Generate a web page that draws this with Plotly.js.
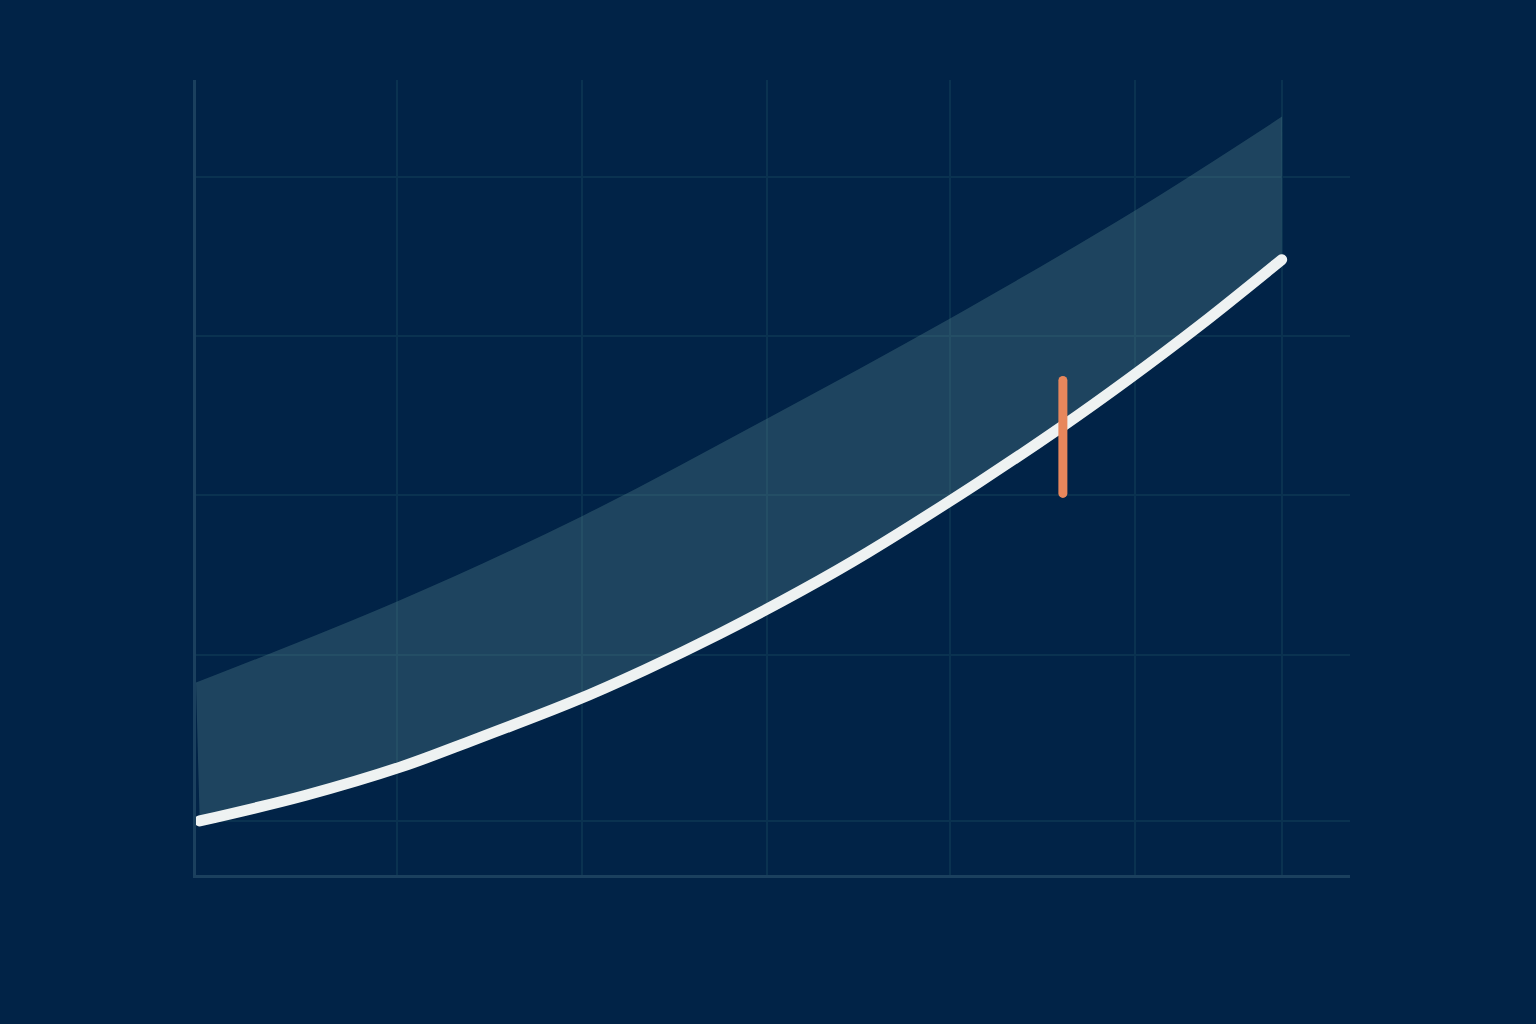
<!DOCTYPE html>
<html>
<head>
<meta charset="utf-8">
<script src="https://cdn.plot.ly/plotly-3.0.1.min.js"></script>
<style>
  html, body { margin: 0; padding: 0; background: #012347; }
  #chart { width: 1536px; height: 1024px; }
  path.js-line { stroke-linecap: round; }
</style>
</head>
<body>
<div id="chart"></div>
<script>
// main curve
var lineX = [0.02, 0.59, 1.11, 1.46, 2.04, 2.43, 2.84, 3.28, 3.64, 4.24, 4.69, 5.04, 5.44, 5.88];
var lineY = [0.34, 0.50, 0.68, 0.83, 1.09, 1.29, 1.52, 1.79, 2.03, 2.47, 2.82, 3.11, 3.46, 3.87];

// upper edge of the shaded band
var bandX = [0.0, 1.089, 2.096, 3.092, 4.084, 5.086, 5.882];
var bandY = [1.21, 1.72, 2.26, 2.87, 3.50, 4.18, 4.77];

// orange marker segment
var markX = [4.695, 4.695];
var markY = [2.40, 3.11];

// grid positions
var xGrid = [1.089, 2.091, 3.093, 4.084, 5.086, 5.882];
var yGrid = [0.34, 1.384, 2.39, 3.39, 4.39];

var data = [{
    x: lineX, y: lineY,
    mode: 'lines',
    line: {color: 'rgba(0,0,0,0)', width: 0, shape: 'spline', smoothing: 1},
    hoverinfo: 'skip'
  },{
    x: bandX, y: bandY,
    mode: 'lines',
    fill: 'tonexty',
    fillcolor: 'rgba(87,132,141,0.35)',
    line: {color: 'rgba(0,0,0,0)', width: 0, shape: 'spline', smoothing: 1},
    hoverinfo: 'skip'
  },{
    x: lineX, y: lineY,
    mode: 'lines',
    line: {color: '#eef2f2', width: 11, shape: 'spline', smoothing: 1}
  },{
    x: markX, y: markY,
    mode: 'lines',
    line: {color: '#e8875c', width: 9}
  }];

var axisCommon = {
    showticklabels: false,
    ticks: '',
    zeroline: false,
    showgrid: true,
    gridcolor: '#0a3250',
    gridwidth: 2,
    showline: true,
    linecolor: '#1b405e',
    linewidth: 3,
    fixedrange: true
};

var layout = {
    width: 1536,
    height: 1024,
    margin: {l: 196, r: 186, t: 80, b: 149},
    showlegend: false,
    paper_bgcolor: '#012347',
    plot_bgcolor: '#012347',
    xaxis: Object.assign({}, axisCommon, {range: [0, 6.25], tickvals: xGrid}),
    yaxis: Object.assign({}, axisCommon, {range: [0, 5], tickvals: yGrid})
};

Plotly.newPlot('chart', data, layout, {displayModeBar: false, staticPlot: true});
</script>
</body>
</html>
